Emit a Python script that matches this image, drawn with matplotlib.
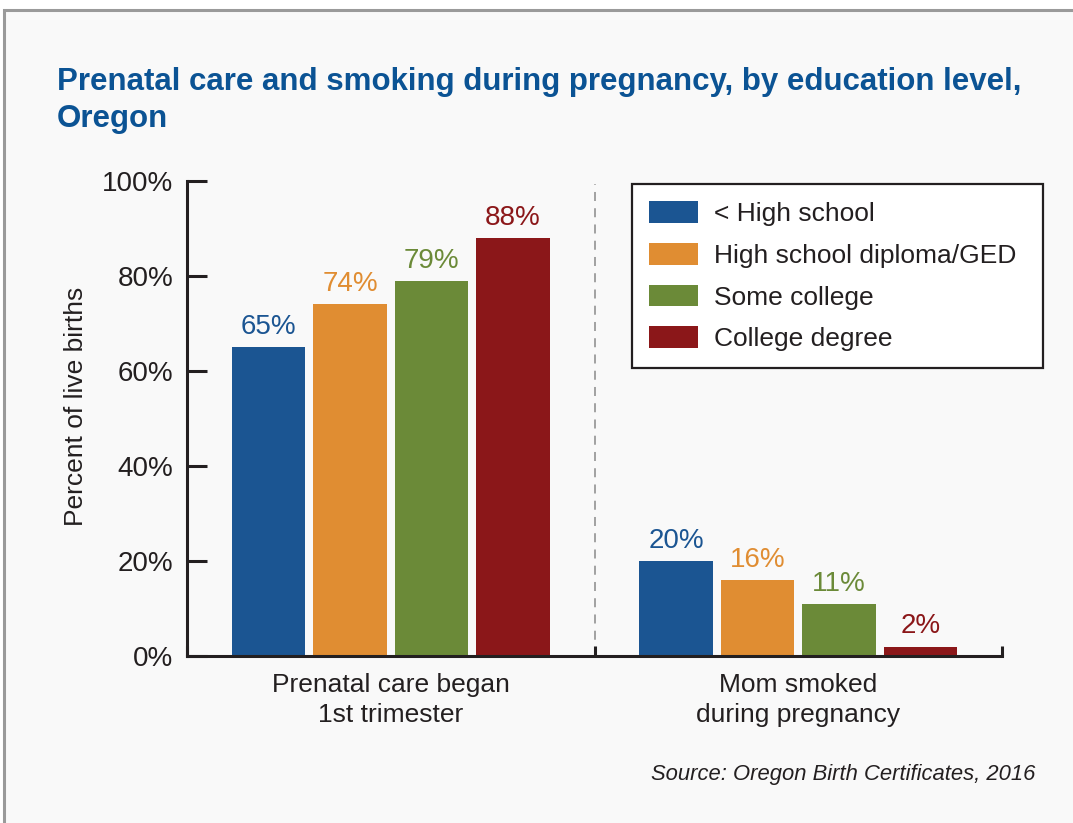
"""Prenatal care and smoking during pregnancy by education level, Oregon 2016."""

import matplotlib.pyplot as plt
import numpy as np
from matplotlib.patches import Rectangle

plt.rcParams["font.family"] = ["Liberation Sans", "DejaVu Sans"]

groups = ["Prenatal care began\n1st trimester", "Mom smoked\nduring pregnancy"]
levels = ["< High school", "High school diploma/GED", "Some college", "College degree"]
colors = ["#1b5592", "#e08d32", "#6b8a38", "#8b1719"]
values = [
    [65, 20],
    [74, 16],
    [79, 11],
    [88, 2],
]

INK = "#231f20"
TITLE = "#0b5394"

W, H = 1073, 823
fig = plt.figure(figsize=(W / 100, H / 100), dpi=100, facecolor="white")

# light panel with a grey frame on the top and left edges
fig.patches.append(
    Rectangle((4 / W, -0.01), 1.1, 1 - 10 / H + 0.01, transform=fig.transFigure,
              facecolor="#f9f9f9", edgecolor="#9a9a9a", linewidth=2.2, zorder=-5)
)

ax = fig.add_axes([187 / W, 1 - 656 / H, (1002 - 187) / W, (656 - 181) / H])
ax.set_facecolor("none")

centers = np.array([0.5, 1.5])
offsets = [-0.3, -0.1, 0.1, 0.3]
handles = []
for level, color, vals, off in zip(levels, colors, values, offsets):
    bars = ax.bar(centers + off, vals, width=0.18, color=color, label=level, zorder=2)
    handles.append(bars)
    for x, v in zip(centers + off, vals):
        ax.text(x, v + 1.5, f"{v}%", ha="center", va="bottom", color=color,
                fontsize=20)

ax.axvline(1, ymin=0, ymax=0.993, color="#9a9a9a", linewidth=1.3,
           linestyle=(0, (5, 4)), zorder=1)

ax.set_xlim(0, 2)
ax.set_ylim(0, 100)
ax.set_yticks(np.arange(0, 101, 20))
ax.set_yticklabels([f"{t}%" for t in range(0, 101, 20)], fontsize=20, color=INK)
ax.set_xticks([0, 1, 2])
ax.set_xticklabels([])
ax.set_xticks(centers, minor=True)
ax.set_xticklabels(groups, minor=True, fontsize=19, color=INK, linespacing=1.35)
ax.tick_params(axis="y", direction="in", length=14.5, width=2.2, color=INK, pad=10)
ax.tick_params(axis="x", which="major", direction="in", length=7, width=2.2, color=INK)
ax.tick_params(axis="x", which="minor", length=0, pad=12)

for side in ["top", "right"]:
    ax.spines[side].set_visible(False)
for side in ["left", "bottom"]:
    ax.spines[side].set_linewidth(2.2)
    ax.spines[side].set_color(INK)

ax.set_ylabel("Percent of live births", fontsize=19, color=INK)
ax.yaxis.set_label_coords(-0.122, 0.526)

leg = fig.legend(
    handles=handles, labels=levels, loc="upper left",
    bbox_to_anchor=(632 / W, 1 - 370 / H, (1043 - 632) / W, (370 - 184) / H),
    mode="expand", fontsize=19, frameon=True,
    fancybox=False, edgecolor=INK, facecolor="white", framealpha=1,
    handlelength=1.85, handleheight=0.9, handletextpad=0.62,
    labelspacing=0.63, borderpad=0.65, borderaxespad=0,
)
leg.get_frame().set_linewidth(1.6)
for t in leg.get_texts():
    t.set_color(INK)

fig.text(57 / W, 1 - 127 / H,
         "Prenatal care and smoking during pregnancy, by education level,\nOregon",
         fontsize=22.5, fontweight="bold", color=TITLE, ha="left", va="baseline",
         linespacing=1.3)

fig.text(1035 / W, 1 - 780 / H, "Source: Oregon Birth Certificates, 2016",
         fontsize=15.8, style="italic", color=INK, ha="right", va="baseline")

fig.savefig("out.png", dpi=100, facecolor="white")
